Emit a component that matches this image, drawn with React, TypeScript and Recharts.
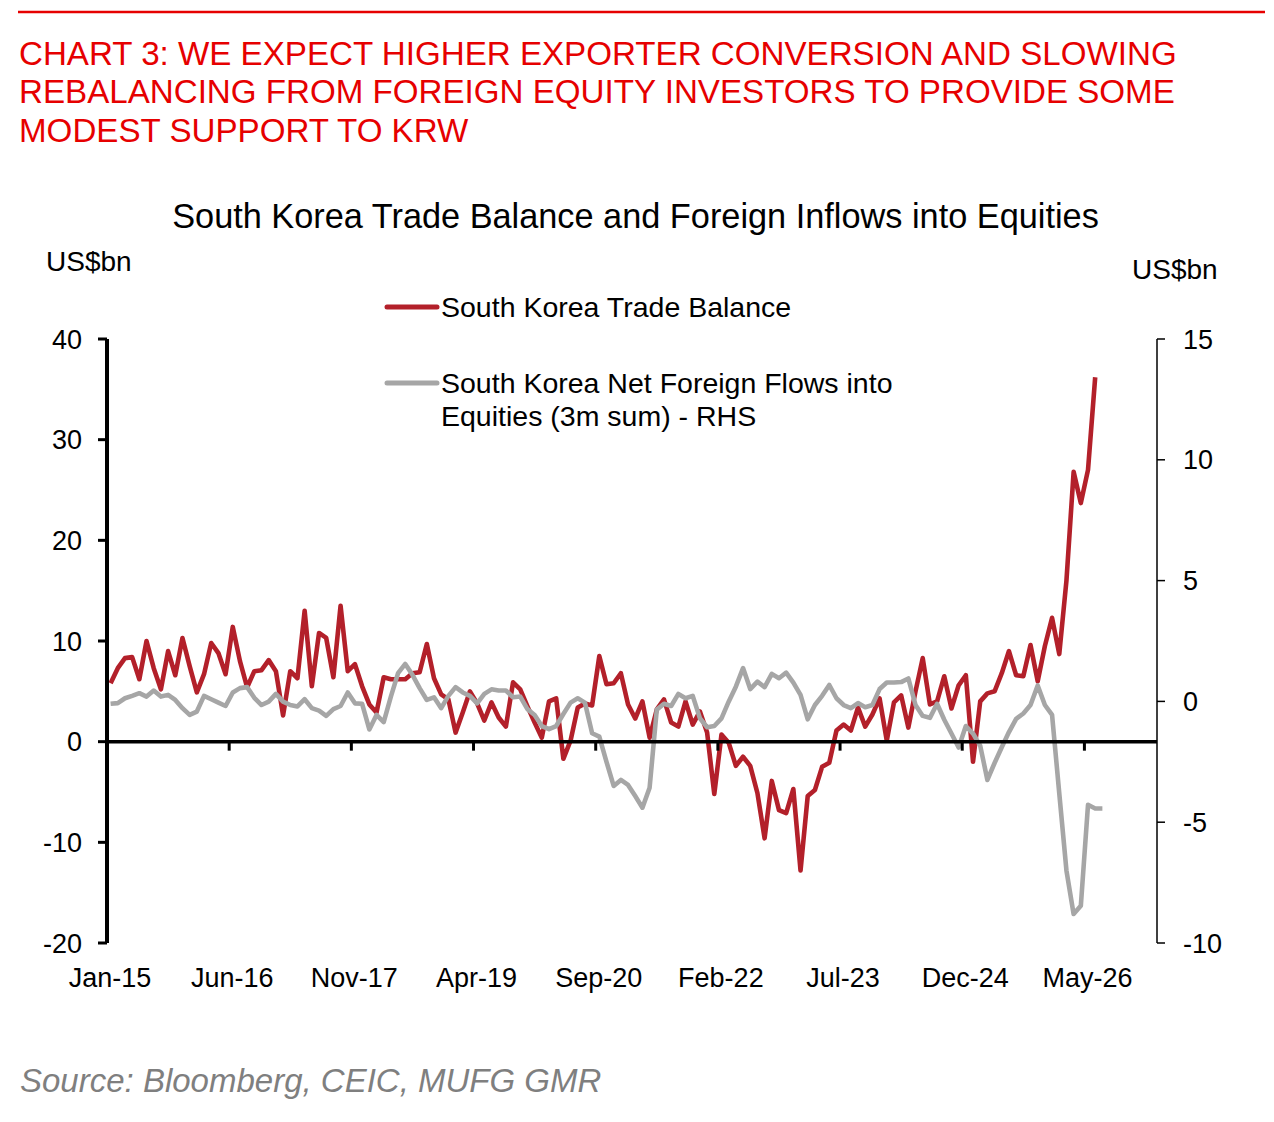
import React from 'react';
import { LineChart, Line, XAxis, YAxis, ReferenceLine, Legend } from 'recharts';

// ---------- data (monthly, starting Jan-15) ----------
const tradeBalance = [
  5.8, 7.3, 8.3, 8.4, 6.2, 10.0, 7.3, 5.2, 9.0, 6.6,
  10.3, 7.5, 4.9, 6.7, 9.8, 8.8, 6.7, 11.4, 8.0, 5.4,
  7.0, 7.1, 8.1, 7.0, 2.6, 7.0, 6.3, 13.0, 5.5, 10.8,
  10.3, 6.4, 13.5, 7.0, 7.7, 5.5, 3.7, 2.9, 6.4, 6.2,
  6.2, 6.2, 6.8, 6.9, 9.7, 6.3, 4.7, 4.2, 0.9, 2.9,
  5.0, 3.8, 2.1, 3.9, 2.4, 1.5, 5.9, 5.2, 3.5, 1.9,
  0.4, 4.0, 4.3, -1.7, 0.1, 3.4, 3.8, 3.6, 8.5, 5.7,
  5.8, 6.8, 3.7, 2.3, 4.0, 0.4, 3.2, 4.2, 1.9, 1.5,
  4.0, 1.7, 3.0, 0.9, -5.2, 0.7, -0.1, -2.4, -1.5, -2.4,
  -5.1, -9.6, -3.9, -6.8, -7.1, -4.7, -12.8, -5.4, -4.8, -2.5,
  -2.1, 1.1, 1.7, 1.1, 3.4, 1.5, 2.7, 4.3, 0.1, 3.9,
  4.6, 1.4, 5.0, 8.3, 3.7, 4.0, 6.5, 3.3, 5.6, 6.6,
  -2.0, 4.0, 4.8, 5.0, 6.8, 9.0, 6.6, 6.5, 9.6, 6.0,
  9.5, 12.3, 8.7, 16.0, 26.8, 23.7, 27.0, 36.2,
];

const foreignFlows = [
  -0.1, -0.07, 0.13, 0.23, 0.34, 0.2, 0.45, 0.2, 0.27, 0.06,
  -0.28, -0.56, -0.42, 0.23, 0.09, -0.05, -0.19, 0.37, 0.55, 0.59,
  0.15, -0.15, -0.01, 0.31, -0.01, -0.15, -0.21, 0.09, -0.28, -0.38,
  -0.6, -0.32, -0.19, 0.37, -0.08, -0.1, -1.16, -0.56, -0.86, 0.2,
  1.17, 1.55, 1.1, 0.55, 0.06, 0.17, -0.28, 0.23, 0.59, 0.37,
  0.23, -0.08, 0.31, 0.5, 0.45, 0.45, 0.17, 0.2, -0.32, -0.56,
  -1.02, -1.15, -1.02, -0.52, -0.05, 0.13, -0.05, -1.32, -1.46, -2.5,
  -3.5, -3.25, -3.46, -3.92, -4.4, -3.57, -0.34, -0.1, -0.19, 0.31,
  0.13, 0.23, -0.7, -1.07, -1.02, -0.7, -0.01, 0.61, 1.38, 0.51,
  0.82, 0.59, 1.14, 0.96, 1.19, 0.78, 0.27, -0.74, -0.15, 0.23,
  0.68, 0.13, -0.15, -0.28, -0.07, -0.24, -0.15, 0.51, 0.78, 0.78,
  0.8, 0.95, -0.15, -0.6, -0.68, -0.1, -0.76, -1.33, -1.91, -1.02,
  -1.33, -1.83, -3.25, -2.55, -1.9, -1.27, -0.72, -0.5, -0.15, 0.66,
  -0.15, -0.56, -3.8, -7.0, -8.8, -8.46, -4.28, -4.43, -4.43,
];

const tickMonths = [0, 17, 34, 51, 68, 85, 102, 119, 136];
const tickLabels = ['Jan-15', 'Jun-16', 'Nov-17', 'Apr-19', 'Sep-20', 'Feb-22', 'Jul-23', 'Dec-24', 'May-26'];
const leftTicks = [-20, -10, 0, 10, 20, 30, 40];
const rightTicks = [-10, -5, 0, 5, 10, 15];

const seriesNames = ['South Korea Trade Balance', 'South Korea Net Foreign Flows into Equities (3m sum) - RHS'];
const legendLines = [
  ['South Korea Trade Balance'],
  ['South Korea Net Foreign Flows into', 'Equities (3m sum) - RHS'],
];
const titleLines = [
  'CHART 3: WE EXPECT HIGHER EXPORTER CONVERSION AND SLOWING',
  'REBALANCING FROM FOREIGN EQUITY INVESTORS TO PROVIDE SOME',
  'MODEST SUPPORT TO KRW',
];
const chartTitle = 'South Korea Trade Balance and Foreign Inflows into Equities';
const sourceText = 'Source: Bloomberg, CEIC, MUFG GMR';

// ---------- layout / style ----------
const W = 1274;
const H = 1122;
const FONT = '"Liberation Sans", Arial, Helvetica, sans-serif';
const RED = '#B3202A';
const GREY = '#A6A6A6';
const seriesColors = [RED, GREY];
const TITLE_RED = '#E60000';
const PLOT_TOP = 339;
const PLOT_BOTTOM = 943;
const LEFT_W = 107;
const RIGHT_W = 117;
const XAXIS_H = 40;
const LEFT_DOMAIN: [number, number] = [-20, 40];
const RIGHT_DOMAIN: [number, number] = [-10, 15];
const X_DOMAIN: [number, number] = [0, 146.1];
const ZERO_Y = PLOT_TOP + ((PLOT_BOTTOM - PLOT_TOP) * (LEFT_DOMAIN[1] - 0)) / (LEFT_DOMAIN[1] - LEFT_DOMAIN[0]);

const data = foreignFlows.map((ff, i) => ({
  m: i + 0.5,
  tb: i < tradeBalance.length ? tradeBalance[i] : null,
  ff,
}));

const XTick = (props: any) => {
  const { x, payload } = props;
  const idx = tickMonths.indexOf(payload.value);
  return (
    <g>
      <line x1={x} x2={x} y1={ZERO_Y} y2={ZERO_Y + 9} stroke="#000" strokeWidth={3} />
      <text x={x + 3} y={PLOT_BOTTOM + 44} textAnchor="middle" fontSize={27} fontFamily={FONT} fill="#000">
        {idx >= 0 ? tickLabels[idx] : ''}
      </text>
    </g>
  );
};

const LegendContent = (props: any) => {
  const payload = props.payload || [];
  return (
    <svg width={560} height={160} style={{ overflow: 'visible' }}>
      {seriesNames.map((name, r) => {
        const entry = payload.find((p: any) => p.value === name);
        const color = entry && entry.color ? entry.color : seriesColors[r];
        const cy = r === 0 ? 27 : 103;
        return (
          <g key={r}>
            <line x1={7} x2={57} y1={cy} y2={cy} stroke={color} strokeWidth={5} strokeLinecap="round" />
            {legendLines[r].map((t, k) => (
              <text key={k} x={61} y={cy + 10 + k * 33} fontSize={28.5} fontFamily={FONT} fill="#000">
                {t}
              </text>
            ))}
          </g>
        );
      })}
    </svg>
  );
};

export default function App() {
  return (
    <div style={{ position: 'absolute', left: 0, top: 0, width: W, height: H, background: '#fff', overflow: 'hidden' }}>
      <LineChart
        width={W}
        height={H}
        data={data}
        margin={{ top: PLOT_TOP, right: 0, bottom: H - PLOT_BOTTOM - XAXIS_H, left: 0 }}
      >
        <XAxis
          dataKey="m"
          type="number"
          domain={X_DOMAIN}
          ticks={tickMonths}
          interval={0}
          axisLine={false}
          tickLine={false}
          height={XAXIS_H}
          tick={(p: any) => <XTick {...p} />}
          allowDataOverflow
        />
        <YAxis
          yAxisId="left"
          orientation="left"
          width={LEFT_W}
          domain={LEFT_DOMAIN}
          ticks={leftTicks}
          interval={0}
          allowDataOverflow
          axisLine={{ stroke: '#000', strokeWidth: 4 }}
          tickLine={{ stroke: '#000', strokeWidth: 3 }}
          tickSize={9}
          tickMargin={16}
          tick={{ fill: '#000', fontSize: 27, fontFamily: FONT }}
        />
        <YAxis
          yAxisId="right"
          orientation="right"
          width={RIGHT_W}
          domain={RIGHT_DOMAIN}
          ticks={rightTicks}
          interval={0}
          allowDataOverflow
          axisLine={{ stroke: '#000', strokeWidth: 1.5 }}
          tickLine={{ stroke: '#000', strokeWidth: 1.5 }}
          tickSize={8}
          tickMargin={18}
          tick={{ fill: '#000', fontSize: 27, fontFamily: FONT, textAnchor: 'start' }}
        />
        <Legend
          layout="horizontal"
          verticalAlign="middle"
          align="center"
          content={(p: any) => <LegendContent {...p} />}
          wrapperStyle={{ position: 'absolute', left: 380, top: 280, width: 560, height: 160 }}
        />
        <Line
          yAxisId="left"
          type="linear"
          dataKey="tb"
          name={seriesNames[0]}
          stroke={RED}
          strokeWidth={4.6}
          strokeLinejoin="round"
          dot={false}
          activeDot={false}
          isAnimationActive={false}
        />
        <Line
          yAxisId="right"
          type="linear"
          dataKey="ff"
          name={seriesNames[1]}
          stroke={GREY}
          strokeWidth={4.6}
          strokeLinejoin="round"
          dot={false}
          activeDot={false}
          isAnimationActive={false}
        />
        <ReferenceLine yAxisId="left" y={0} stroke="#000" strokeWidth={3.5} />
      </LineChart>
      <svg
        width={W}
        height={H}
        style={{ position: 'absolute', left: 0, top: 0, pointerEvents: 'none' }}
      >
        <line x1={18} x2={1265} y1={12} y2={12} stroke={TITLE_RED} strokeWidth={2.3} />
        {titleLines.map((t, i) => (
          <text key={i} x={19} y={64.5 + i * 38.5} fontSize={33.15} fontFamily={FONT} fill={TITLE_RED}>
            {t}
          </text>
        ))}
        <text x={635.5} y={228} textAnchor="middle" fontSize={34.3} fontFamily={FONT} fill="#000">
          {chartTitle}
        </text>
        <text x={46} y={271} fontSize={28} fontFamily={FONT} fill="#000">US$bn</text>
        <text x={1132} y={279} fontSize={28} fontFamily={FONT} fill="#000">US$bn</text>
        <text x={20} y={1092} fontSize={33} fontStyle="italic" fontFamily={FONT} fill="#7F7F7F">
          {sourceText}
        </text>
      </svg>
    </div>
  );
}
